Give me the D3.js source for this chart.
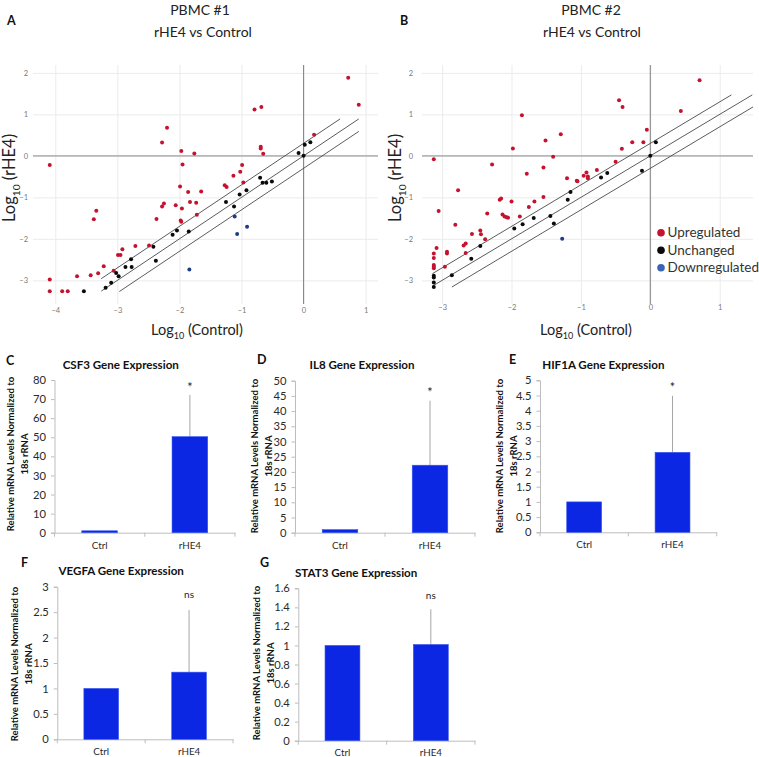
<!DOCTYPE html>
<html><head><meta charset="utf-8">
<script src="https://cdn.jsdelivr.net/npm/d3@7"></script>
<style>
body{margin:0;background:#fff}
svg{font-family:Lato,"Open Sans",sans-serif;display:block}
</style></head>
<body><svg id="c" width="759" height="757"></svg>
<script>
// ---------------- DATA ----------------
const scatterXTicksA = [-4,-3,-2,-1,0,1];
const scatterXTicksB = [-3,-2,-1,0,1];
const scatterYTicks = [-3,-2,-1,0,1,2];
const foldOffsets = [0.301, 0, -0.301];
const legendLabels = ["Upregulated","Unchanged","Downregulated"];

const aUp = [[-4.09,-0.22],[-4.09,-2.98],[-4.09,-3.26],[-3.89,-3.26],[-3.80,-3.26],[-3.65,-2.90],[-3.43,-2.88],[-3.38,-1.53],[-3.34,-1.32],[-3.31,-2.83],[-3.22,-2.66],[-3.06,-2.77],[-2.99,-2.39],[-2.95,-2.39],[-2.92,-2.25],[-2.71,-2.17],[-2.49,-2.16],[-2.37,-1.52],[-2.28,0.32],[-2.20,0.68],[-2.28,-1.22],[-2.25,-1.15],[-2.06,-1.19],[-1.99,-0.74],[-1.97,0.12],[-1.95,-0.21],[-1.98,-1.56],[-1.97,-1.59],[-1.96,-1.27],[-1.86,-0.87],[-1.83,-1.11],[-1.76,0.06],[-1.73,-1.13],[-1.72,-1.42],[-1.65,-0.86],[-1.27,-0.71],[-1.24,-0.75],[-1.13,-0.48],[-1.02,-0.38],[-0.99,-0.22],[-0.97,-0.64],[-0.79,1.12],[-0.68,1.18],[-0.69,0.22],[-0.69,0.18],[-0.65,0.05],[0.17,0.51],[0.72,1.88],[0.89,1.23]];
const aUnchanged = [[-3.54,-3.26],[-3.19,-3.18],[-3.10,-3.06],[-3.02,-2.82],[-2.98,-2.90],[-2.87,-2.68],[-2.78,-2.49],[-2.77,-2.68],[-2.42,-2.19],[-2.38,-2.53],[-2.11,-1.90],[-2.04,-1.80],[-1.85,-1.82],[-1.25,-1.11],[-1.12,-1.22],[-1.03,-0.93],[-0.92,-0.83],[-0.70,-0.53],[-0.66,-0.65],[-0.60,-0.65],[-0.51,-0.62],[-0.08,0.07],[0,0],[0.02,0.27],[0.11,0.33]];
const aDown = [[-1.11,-1.46],[-1.07,-1.88],[-0.91,-1.71],[-1.84,-2.74]];

const bUp = [[-3.12,-0.08],[-3.05,-1.33],[-3.12,-2.35],[-3.12,-2.46],[-3.12,-2.63],[-3.12,-2.67],[-3.12,-2.71],[-3.08,-2.22],[-2.96,-2.67],[-2.93,-2.31],[-2.93,-2.35],[-2.81,-1.66],[-2.77,-0.83],[-2.69,-2.16],[-2.66,-2.11],[-2.66,-2.34],[-2.57,-1.88],[-2.45,-1.80],[-2.44,-1.89],[-2.38,-2.01],[-2.35,-1.39],[-2.28,-0.21],[-2.17,-1.06],[-2.15,-1.03],[-2.13,-1.41],[-2.10,-1.46],[-2.07,-1.48],[-2.05,-1.49],[-2.00,-1.10],[-1.98,0.18],[-1.88,-1.46],[-1.85,0.98],[-1.78,-0.43],[-1.75,-1.23],[-1.67,-1.10],[-1.54,-0.99],[-1.54,-0.28],[-1.51,0.37],[-1.40,-0.02],[-1.29,0.52],[-1.20,-0.54],[-1.06,-0.60],[-1.05,-0.61],[-0.96,-0.48],[-0.92,-0.40],[-0.90,-0.50],[-0.90,-0.54],[-0.77,-0.34],[-0.50,-0.14],[-0.45,1.34],[-0.41,0.17],[-0.40,1.18],[-0.26,0.33],[-0.10,0.33],[-0.05,0.63],[0.44,1.08],[0.71,1.82]];
const bUnchanged = [[-3.12,-2.89],[-3.12,-2.93],[-3.12,-3.05],[-3.12,-3.16],[-2.86,-2.88],[-2.58,-2.48],[-2.45,-2.17],[-1.96,-1.75],[-1.84,-1.65],[-1.68,-1.50],[-1.44,-1.45],[-1.39,-1.63],[-1.19,-1.06],[-1.15,-0.87],[-0.71,-0.52],[-0.62,-0.41],[-0.12,-0.36],[0,0],[0.08,0.33]];
const bDown = [[-1.27,-2.00]];

const barCategories = ["Ctrl","rHE4"];
const csf3Values = [1, 50.3];   const csf3ErrTop = [null, 72.2]; const csf3Sig = ["", "*"];
const il8Values  = [1, 22.2];   const il8ErrTop  = [null, 43.4]; const il8Sig  = ["", "*"];
const hif1aValues= [1, 2.63];   const hif1aErrTop= [null, 4.49]; const hif1aSig= ["", "*"];
const vegfaValues= [1, 1.32];   const vegfaErrTop= [null, 2.54]; const vegfaSig= ["", "ns"];
const stat3Values= [1, 1.01];   const stat3ErrTop= [null, 1.38]; const stat3Sig= ["", "ns"];
const csf3Ticks  = [0,10,20,30,40,50,60,70,80];
const il8Ticks   = [0,5,10,15,20,25,30,35,40,45,50];
const hif1aTicks = [0,0.5,1,1.5,2,2.5,3,3.5,4,4.5,5];
const vegfaTicks = [0,0.5,1,1.5,2,2.5,3];
const stat3Ticks = [0,0.2,0.4,0.6,0.8,1,1.2,1.4,1.6];

// ---------------- DRAW ----------------
const svg = d3.select("#c");
const RED = "#c4122f", BLK = "#0a0a0a", BLU = "#1f3d85";

function txt(x, y, s, opt={}) {
  const t = svg.append("text").attr("x", x).attr("y", y).text(s)
    .attr("font-size", opt.size || 12).attr("fill", opt.fill || "#222")
    .attr("text-anchor", opt.anchor || "start");
  if (opt.bold) t.attr("font-weight", "bold");
  return t;
}
function logTitle(x, y, inner, size, rotate) {
  const t = svg.append("text").attr("text-anchor","middle").attr("font-size", size).attr("fill","#222");
  if (rotate) t.attr("transform", `translate(${x},${y}) rotate(-90)`);
  else t.attr("x", x).attr("y", y);
  t.append("tspan").text("Log");
  t.append("tspan").text("10").attr("font-size", size*0.62).attr("dy", size*0.28);
  t.append("tspan").text(" (" + inner + ")").attr("dy", -size*0.28);
}

function scatter(cfg) {
  const x = d3.scaleLinear().domain(cfg.xDom).range(cfg.xRng);
  const y = d3.scaleLinear().domain(cfg.yDom).range(cfg.yRng);
  const W = cfg.xRng[1]-cfg.xRng[0], H = cfg.yRng[0]-cfg.yRng[1];
  const fmt = d3.format("");
  const gy = svg.append("g").attr("transform", `translate(${cfg.xRng[0]},0)`)
    .call(d3.axisLeft(y).tickValues(scatterYTicks).tickSize(-W).tickPadding(cfg.yPad).tickFormat(fmt));
  const gx = svg.append("g").attr("transform", `translate(0,${cfg.yRng[0]})`)
    .call(d3.axisBottom(x).tickValues(cfg.xTicks).tickSize(-H).tickPadding(cfg.xPad).tickFormat(fmt));
  [gx, gy].forEach(g => {
    g.select(".domain").remove();
    g.selectAll(".tick line").attr("stroke", "#ebebeb").attr("stroke-width", 1);
    g.selectAll(".tick text").attr("fill", "#7a7a7a").attr("font-size", 7.5).attr("font-family","Lato,sans-serif");
  });
  svg.append("line").attr("x1", cfg.xRng[0]).attr("x2", cfg.xRng[1]).attr("y1", y(0)).attr("y2", y(0))
    .attr("stroke", "#a0a0a0").attr("stroke-width", 1.3);
  svg.append("line").attr("x1", x(0)).attr("x2", x(0)).attr("y1", cfg.yRng[0]).attr("y2", cfg.yRng[1])
    .attr("stroke", "#8a8a8a").attr("stroke-width", 1.1);
  const [bx0, bx1, by0, by1] = cfg.box;
  foldOffsets.forEach(c => {
    const xa = Math.max(bx0, by0 - c), xb = Math.min(bx1, by1 - c);
    svg.append("line").attr("x1", x(xa)).attr("y1", y(xa + c)).attr("x2", x(xb)).attr("y2", y(xb + c))
      .attr("stroke", "#4a4a4a").attr("stroke-width", 0.9);
  });
  const pts = (data, col) => svg.append("g").selectAll("circle").data(data).join("circle")
    .attr("cx", d => x(d[0])).attr("cy", d => y(d[1])).attr("r", 2).attr("fill", col);
  pts(cfg.up, RED); pts(cfg.un, BLK); pts(cfg.down, BLU);
}

scatter({xDom:[-4.36,1.2], xRng:[33,378], yDom:[-3.57,2.19], yRng:[304,65],
  xTicks: scatterXTicksA, yPad: 5, xPad: 4,
  box:[-3.26,0.89,-3.27,0.89], up:aUp, un:aUnchanged, down:aDown});
scatter({xDom:[-3.29,1.48], xRng:[422,753], yDom:[-3.57,2.19], yRng:[304,65],
  xTicks: scatterXTicksB, yPad: 9, xPad: 1,
  box:[-3.14,1.48,-3.16,1.47], up:bUp, un:bUnchanged, down:bDown});

txt(200, 15, "PBMC #1", {size:14, anchor:"middle"});
txt(203, 37, "rHE4 vs Control", {size:14, anchor:"middle"});
txt(591, 15, "PBMC #2", {size:14, anchor:"middle"});
txt(592, 37, "rHE4 vs Control", {size:14, anchor:"middle"});
txt(7, 25, "A", {size:12.5, bold:true, fill:"#111"});
txt(400, 25, "B", {size:12.5, bold:true, fill:"#111"});
logTitle(15, 178, "rHE4", 16.5, true);
logTitle(401, 178, "rHE4", 16.5, true);
logTitle(197, 335, "Control", 14.5, false);
logTitle(586, 335, "Control", 14.5, false);

const legCols = [RED, BLK, "#3a64b4"];
legendLabels.forEach((l, i) => {
  const cy = 232.7 + i*17.5;
  svg.append("circle").attr("cx", 661).attr("cy", cy).attr("r", 3.8).attr("fill", legCols[i]);
  txt(667.5, cy + 4.7, l, {size:13.5, fill:"#333"});
});

// ---------------- BAR CHARTS ----------------
function bars(cfg) {
  const x = d3.scaleBand().domain(barCategories).range(cfg.xr);
  const y = d3.scaleLinear().domain([0, cfg.ticks[cfg.ticks.length-1]]).range(cfg.yr);
  const bw = x.bandwidth()*0.395;
  const gy = svg.append("g").attr("transform", `translate(${cfg.xr[0]},0)`)
    .call(d3.axisLeft(y).tickValues(cfg.ticks).tickSize(3.5).tickPadding(5).tickFormat(d3.format("~g")));
  gy.select(".domain").attr("stroke", "#bdbdbd");
  gy.selectAll(".tick line").attr("stroke", "#bdbdbd");
  gy.selectAll(".tick text").attr("fill", "#2a2a2a").attr("font-size", 11.2).attr("font-family","Lato,sans-serif");
  const gx = svg.append("g").attr("transform", `translate(0,${cfg.yr[0]})`)
    .call(d3.axisBottom(x).tickSize(0).tickPadding(cfg.catPad));
  gx.select(".domain").attr("stroke", "#bdbdbd");
  gx.selectAll(".tick text").attr("fill", "#2a2a2a").attr("font-size", 9.8).attr("font-family","Lato,sans-serif");
  const bounds = barCategories.map(c => x(c)).concat([cfg.xr[1]]);
  svg.append("g").selectAll("line").data(bounds).join("line")
    .attr("x1", d => d).attr("x2", d => d).attr("y1", cfg.yr[0]).attr("y2", cfg.yr[0] + 4)
    .attr("stroke", "#bdbdbd");
  const data = barCategories.map((c, i) => ({c, v: cfg.values[i], e: cfg.err[i], s: cfg.sig[i]}));
  svg.append("g").selectAll("line").data(data.filter(d => d.e != null)).join("line")
    .attr("x1", d => x(d.c) + x.bandwidth()/2).attr("x2", d => x(d.c) + x.bandwidth()/2)
    .attr("y1", d => y(d.v)).attr("y2", d => y(d.e)).attr("stroke", "#a6a6a6").attr("stroke-width", 1);
  svg.append("g").selectAll("rect").data(data).join("rect")
    .attr("x", d => x(d.c) + (x.bandwidth()-bw)/2).attr("width", bw)
    .attr("y", d => y(d.v)).attr("height", d => y(0) - y(d.v))
    .attr("fill", "#0b27e3").attr("stroke", "#3655ee").attr("stroke-width", 0.6);
  svg.append("g").selectAll("text").data(data.filter(d => d.s)).join("text")
    .attr("x", d => x(d.c) + x.bandwidth()/2).attr("y", d => d.s === "*" ? cfg.sigY + 3 : cfg.sigY)
    .attr("text-anchor", "middle")
    .attr("font-size", d => d.s === "*" ? 12.5 : 10).attr("fill", "#222").text(d => d.s);
  txt((cfg.xr[0]+cfg.xr[1])/2 + cfg.titleDx, cfg.titleY, cfg.title, {size:11.6, bold:true, anchor:"middle", fill:"#111"});
  txt(cfg.letter[1], cfg.letter[2], cfg.letter[0], {size:12.5, bold:true, fill:"#111"});
  const cy = cfg.ytY;
  [["Relative mRNA Levels Normalized to", cfg.ytX[0]], ["18s rRNA", cfg.ytX[1]]].forEach(([s, xx]) => {
    svg.append("text").attr("transform", `translate(${xx},${cy}) rotate(-90)`)
      .attr("text-anchor", "middle").attr("dy", "0.35em").attr("font-size", 9.5)
      .attr("font-weight", "bold").attr("fill", "#111").text(s);
  });
}

bars({xr:[54.5,235], yr:[532.7,380], ticks:csf3Ticks, values:csf3Values, err:csf3ErrTop, sig:csf3Sig,
  sigY:389, title:"CSF3 Gene Expression", titleDx:-24, titleY:369, letter:["C",6,365], ytX:[11,25], ytY:454, catPad:9});
bars({xr:[295,475], yr:[532.7,380.7], ticks:il8Ticks, values:il8Values, err:il8ErrTop, sig:il8Sig,
  sigY:394, title:"IL8 Gene Expression", titleDx:-23, titleY:369, letter:["D",257,364], ytX:[255,269], ytY:456, catPad:9});
bars({xr:[540,716.7], yr:[532.3,380.3], ticks:hif1aTicks, values:hif1aValues, err:hif1aErrTop, sig:hif1aSig,
  sigY:389, title:"HIF1A Gene Expression", titleDx:-25, titleY:369, letter:["E",509,364], ytX:[500,514], ytY:456, catPad:9});
bars({xr:[57.3,233], yr:[739.3,586.7], ticks:vegfaTicks, values:vegfaValues, err:vegfaErrTop, sig:vegfaSig,
  sigY:598, title:"VEGFA Gene Expression", titleDx:-24, titleY:575, letter:["F",21,567], ytX:[15,29], ytY:664, catPad:9});
bars({xr:[298.3,475], yr:[740.7,588.3], ticks:stat3Ticks, values:stat3Values, err:stat3ErrTop, sig:stat3Sig,
  sigY:599, title:"STAT3 Gene Expression", titleDx:-30.5, titleY:577, letter:["G",260,567], ytX:[256.7,270.7], ytY:663, catPad:8});
</script>
</body></html>
